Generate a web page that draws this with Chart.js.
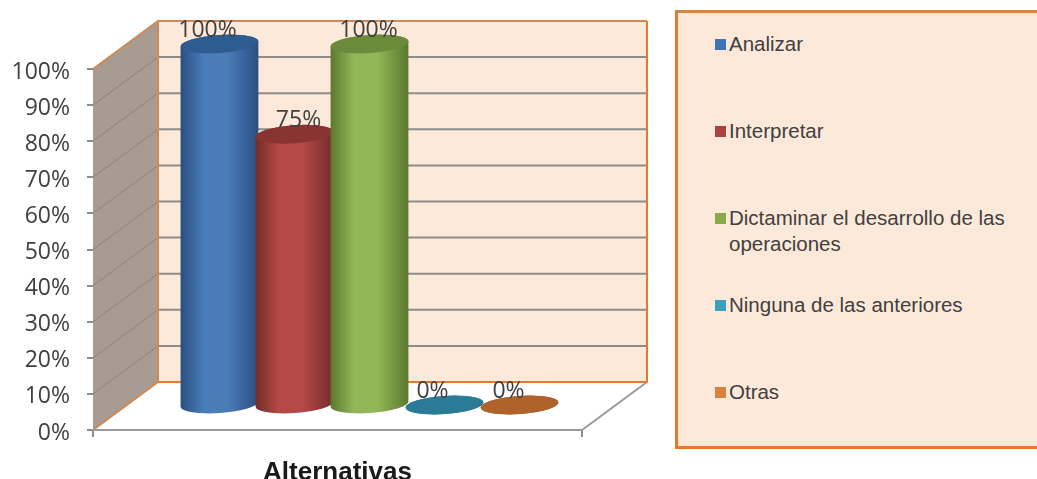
<!DOCTYPE html>
<html>
<head>
<meta charset="utf-8">
<script src="https://cdn.jsdelivr.net/npm/chart.js@4/dist/chart.umd.min.js"></script>
<style>
    html, body { margin: 0; padding: 0; background: #fff; overflow: hidden; }
    #wrap { position: relative; width: 1037px; height: 479px; overflow: hidden; }
    #legend {
        position: absolute; left: 675px; top: 10px; width: 400px; height: 433px;
        background: #fde9d9; border: 3px solid #e8792a; border-top-color: #cf8750;
        font-family: "Liberation Sans", sans-serif; font-size: 20.5px; color: #404040;
    }
    .row { position: absolute; left: 37px; width: 300px; line-height: 26px; padding-left: 14px; }
    .row i { position: absolute; left: 0; top: 8px; width: 11px; height: 11px; }
</style>
</head>
<body>
<div id="wrap">
    <canvas id="chart" width="1037" height="479"></canvas>
    <div id="legend"></div>
</div>
<script>
const categories = ["Alternativas"];
const seriesNames = ["Analizar", "Interpretar", "Dictaminar el desarrollo de las operaciones", "Ninguna de las anteriores", "Otras"];
const seriesValues = [100, 75, 100, 0, 0];
const legendColors = ["#3f74b5", "#ad4340", "#88aa49", "#3c9fbd", "#dc8238"];
const edgeColors = ["#2a4f80", "#742c2a", "#5c7830", "#2b7a96", "#a85c28"];
const midColors = ["#4a7cb8", "#b54946", "#92b757", "#2b7a96", "#a85c28"];
const capColors = ["#2f5c90", "#8a3432", "#6b8b3a", "#2b7a96", "#b0622b"];
const labelShift = [-12, 4, -1, -12, -11];

// depth of the box, and how far the bars stand inside it
const depthX = 65, depthY = -48;
const barX = 32, barY = -25;

const wallsPlugin = {
    id: 'walls',
    beforeDraw(chart) {
        const ctx = chart.ctx;
        const { left, right } = chart.chartArea;
        const yScale = chart.scales.y;
        const y0 = yScale.getPixelForValue(0), y100 = yScale.getPixelForValue(100);
        ctx.save();

        // side wall
        ctx.beginPath();
        ctx.moveTo(left, y100);
        ctx.lineTo(left + depthX, y100 + depthY);
        ctx.lineTo(left + depthX, y0 + depthY);
        ctx.lineTo(left, y0);
        ctx.closePath();
        ctx.fillStyle = "#a89b91";
        ctx.fill();

        // back wall
        ctx.fillStyle = "#fde9d9";
        ctx.fillRect(left + depthX, y100 + depthY, right - left, y0 - y100);

        // grid lines run along the side wall and across the back
        yScale.ticks.forEach(t => {
            if (t.value === 0 || t.value === 100) return;
            const y = yScale.getPixelForValue(t.value);
            ctx.beginPath();
            ctx.moveTo(left, y);
            ctx.lineTo(left + depthX, y + depthY);
            ctx.strokeStyle = "#8d8379";
            ctx.lineWidth = 1;
            ctx.stroke();
            ctx.beginPath();
            ctx.moveTo(left + depthX, y + depthY);
            ctx.lineTo(right + depthX, y + depthY);
            ctx.strokeStyle = "#8f8b88";
            ctx.lineWidth = 2;
            ctx.stroke();
        });

        // orange frame
        ctx.lineWidth = 2;
        ctx.strokeStyle = "#cf8a58";
        ctx.beginPath();
        ctx.moveTo(left, y100);
        ctx.lineTo(left + depthX, y100 + depthY);
        ctx.lineTo(right + depthX, y100 + depthY);
        ctx.moveTo(left, y0);
        ctx.lineTo(left + depthX, y0 + depthY);
        ctx.lineTo(left + depthX, y100 + depthY);
        ctx.stroke();
        ctx.strokeStyle = "#e8792a";
        ctx.beginPath();
        ctx.moveTo(left + depthX, y0 + depthY);
        ctx.lineTo(right + depthX, y0 + depthY);
        ctx.lineTo(right + depthX, y100 + depthY);
        ctx.stroke();

        // floor edge
        ctx.strokeStyle = "#9a9a9a";
        ctx.beginPath();
        ctx.moveTo(right, y0);
        ctx.lineTo(right + depthX, y0 + depthY);
        ctx.stroke();
        ctx.restore();
    }
};

function ellipse(ctx, x, y, rx, ry, from, to) {
    ctx.ellipse(x, y, rx, ry, -0.07, from, to);
}

function drawCylinder(ctx, bar, i) {
    const x = bar.x + barX, top = bar.y + barY, bottom = bar.base + barY;
    const rx = bar.width / 2 + 1.5, ry = 9;

    const grad = ctx.createLinearGradient(x - rx, 0, x + rx, 0);
    grad.addColorStop(0, edgeColors[i]);
    grad.addColorStop(0.3, midColors[i]);
    grad.addColorStop(0.6, midColors[i]);
    grad.addColorStop(1, edgeColors[i]);

    ctx.save();
    ctx.beginPath();
    ellipse(ctx, x, top, rx, ry, Math.PI, 0);
    ellipse(ctx, x, bottom, rx, ry, 0, Math.PI);
    ctx.closePath();
    ctx.fillStyle = grad;
    ctx.fill();

    ctx.beginPath();
    ellipse(ctx, x, top, rx, ry, 0, Math.PI * 2);
    ctx.fillStyle = capColors[i];
    ctx.fill();
    ctx.restore();
}

const cylinderPlugin = {
    id: 'cylinder',
    // the flat bars are replaced by cylinders, left one first so the next overlaps it
    beforeDatasetDraw() {
        return false;
    },
    afterDatasetsDraw(chart) {
        const ctx = chart.ctx;
        chart.data.datasets.forEach((ds, i) => {
            drawCylinder(ctx, chart.getDatasetMeta(i).data[0], i);
        });
        ctx.save();
        ctx.font = '23px "Open Sans"';
        ctx.fillStyle = "#404040";
        ctx.textAlign = "center";
        ctx.textBaseline = "middle";
        chart.data.datasets.forEach((ds, i) => {
            const bar = chart.getDatasetMeta(i).data[0];
            ctx.fillText(ds.data[0] + "%", bar.x + barX + labelShift[i], bar.y + barY - 14);
        });
        ctx.restore();
    }
};

new Chart(document.getElementById('chart').getContext('2d'), {
    type: 'bar',
    data: {
        labels: categories,
        datasets: seriesNames.map((name, i) => ({
            label: name,
            data: [seriesValues[i]],
            backgroundColor: legendColors[i]
        }))
    },
    plugins: [wallsPlugin, cylinderPlugin],
    options: {
        responsive: false,
        animation: false,
        layout: { padding: { top: 69, right: 455, bottom: 0, left: 0 } },
        plugins: { legend: { display: false }, tooltip: { enabled: false } },
        datasets: { bar: { barPercentage: 1, categoryPercentage: 0.767 } },
        scales: {
            x: {
                afterFit(scale) { scale.height = 49; },
                ticks: { display: false },
                grid: { offset: true, drawOnChartArea: false, color: "#8c8c8c", lineWidth: 2, tickLength: 7 },
                border: { color: "#9a9a9a", width: 2 },
                title: {
                    display: true,
                    text: categories[0],
                    color: "#1a1a1a",
                    font: { family: '"Liberation Sans"', size: 26, weight: 'bold', lineHeight: 0.5 },
                    padding: { top: 0, bottom: 0 }
                }
            },
            y: {
                min: 0,
                max: 100,
                afterFit(scale) { scale.width = 93; },
                ticks: {
                    stepSize: 10,
                    padding: 17,
                    labelOffset: 3,
                    color: "#404040",
                    font: { family: '"Open Sans"', size: 23 },
                    callback: v => v + "%"
                },
                grid: { drawOnChartArea: false, color: "#8c8c8c", lineWidth: 2, tickLength: 6 },
                border: { display: false }
            }
        }
    }
});

// legend rows sit at an even pitch inside the panel
const legend = document.getElementById('legend');
seriesNames.forEach((name, i) => {
    const row = document.createElement('div');
    row.className = 'row';
    row.style.top = (18 + i * 87) + 'px';
    row.innerHTML = '<i style="background:' + legendColors[i] + '"></i>' + name;
    legend.appendChild(row);
});
</script>
</body>
</html>
